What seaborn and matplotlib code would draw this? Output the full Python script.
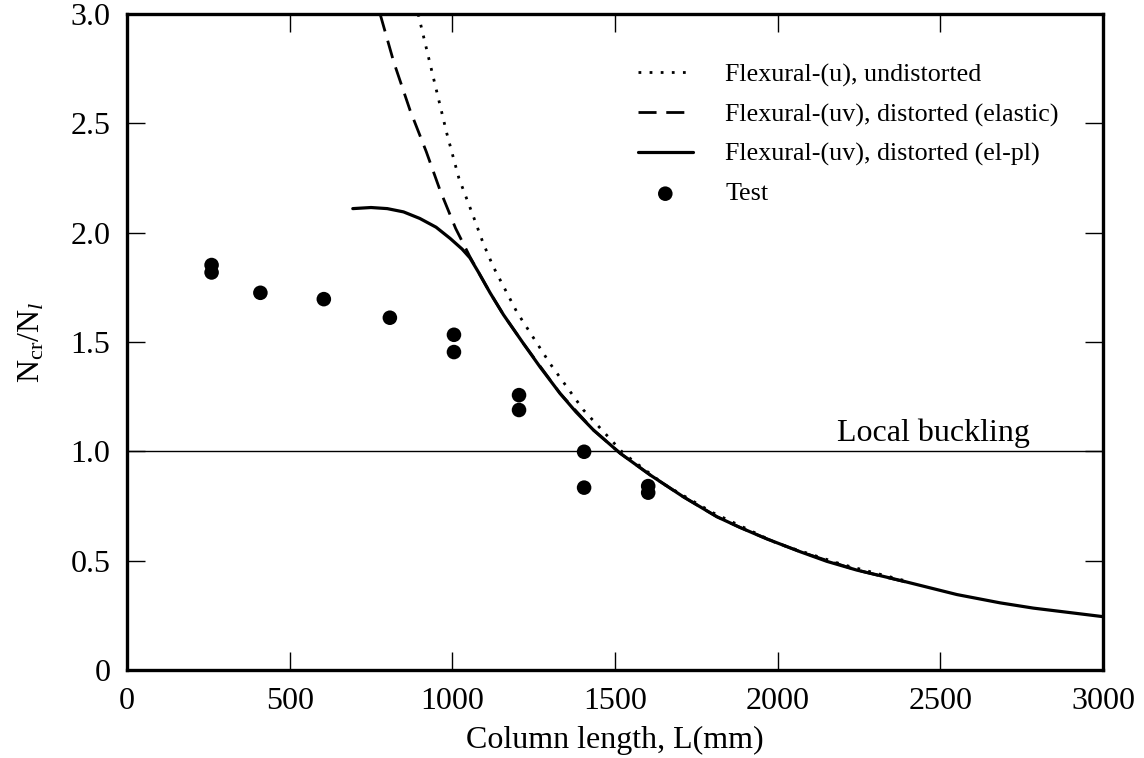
import numpy as np
import pandas as pd
import seaborn as sb
from matplotlib import pyplot as plt

# values
L_u = [895, 940, 983, 1020, 1065, 1095, 1126, 1198, 1300, 1403, 1526, 1650, 1800, 2000, 2200, 2400]
N_u = [3.0, 2.72, 2.454, 2.25, 2.073, 1.951, 1.844, 1.638, 1.402, 1.189, 0.991, 0.85, 0.72, 0.578, 0.482, 0.405]

L_el = [778, 820, 870, 920, 962, 1010, 1054, 1080, 1116, 1157, 1218, 1331, 1434, 1516, 1608,
        1710, 1813, 1884, 1966, 2069, 2243, 2400]
N_el = [3.0, 2.78, 2.56, 2.37, 2.195, 2.02, 1.89, 1.82, 1.725, 1.625, 1.494, 1.265, 1.097, 0.991, 0.892,
        0.792, 0.701, 0.652, 0.6, 0.541, 0.457, 0.40]

L_pl = [694, 750, 800, 850, 900, 950, 993, 1030, 1054, 1080, 1116, 1157, 1218, 1270, 1331, 1380,
        1434, 1516, 1608, 1710, 1813, 1884, 1966, 2069, 2151, 2243, 2376, 2551, 2684, 2786, 3000]
N_pl = [2.11, 2.115, 2.11, 2.095, 2.065, 2.025, 1.974, 1.925, 1.885, 1.82, 1.725, 1.625, 1.494, 1.385, 1.265, 1.18,
        1.097, 0.991, 0.892, 0.792, 0.701, 0.652, 0.6, 0.541, 0.497, 0.457, 0.41, 0.345, 0.307, 0.283, 0.244]

L_test = [260, 260, 410, 605, 808, 1005, 1005, 1205, 1205, 1405, 1405, 1602, 1602]
N_test = [1.852, 1.818, 1.725, 1.696, 1.611, 1.533, 1.454, 1.257, 1.189, 0.998, 0.834, 0.841, 0.811]

X_TICKS = [0, 500, 1000, 1500, 2000, 2500, 3000]
Y_TICKS = [0, 0.5, 1.0, 1.5, 2.0, 2.5, 3.0]
Y_TICK_LABELS = ["0", "0.5", "1.0", "1.5", "2.0", "2.5", "3.0"]

sb.set_style("ticks")
plt.rcParams['font.family'] = ['Liberation Serif', 'DejaVu Serif']
plt.rcParams['mathtext.fontset'] = 'custom'
plt.rcParams['mathtext.rm'] = 'Liberation Serif'
plt.rcParams['mathtext.it'] = 'Liberation Serif:italic'
for key in ['text.color', 'axes.labelcolor', 'xtick.color', 'ytick.color', 'axes.edgecolor']:
    plt.rcParams[key] = 'black'

fig = plt.figure(figsize=(11.44, 7.58), dpi=100)
ax = fig.add_axes([127 / 1144, 1 - 670 / 758, 976 / 1144, 656 / 758])

# Plotting curves
sb.lineplot(x=L_u, y=N_u, ax=ax, color="k", lw=2.0, linestyle=(0, (1, 3)),
            label="Flexural-(u), undistorted")
sb.lineplot(x=L_el, y=N_el, ax=ax, color="k", lw=2.0, linestyle=(0, (6.5, 3.5)),
            label="Flexural-(uv), distorted (elastic)")
sb.lineplot(x=L_pl, y=N_pl, ax=ax, color="k", lw=2.3, linestyle="-",
            label="Flexural-(uv), distorted (el-pl)")
sb.scatterplot(x=L_test, y=N_test, ax=ax, color="k", s=110, edgecolor="none",
               label="Test", zorder=5)

# local buckling reference
ax.axhline(y=1.0, color="k", lw=1.0)
ax.text(2775, 1.045, "Local buckling", ha="right", va="baseline", fontsize=23)

ax.set_xlim(0, 3000)
ax.set_ylim(0, 3.0)
ax.set_xticks(X_TICKS)
ax.set_yticks(Y_TICKS)
ax.set_yticklabels(Y_TICK_LABELS)
ax.tick_params(direction="in", length=13, width=1, top=True, right=True,
               labelsize=23, pad=12)
for sp in ax.spines.values():
    sp.set_linewidth(2.4)
    sp.set_visible(True)

ax.set_xlabel("Column length, L(mm)", fontsize=23)
ax.set_ylabel(r"N$_{\mathrm{cr}}$/N$_{\mathit{l}}$", fontsize=23)
ax.xaxis.set_label_coords(0.5, -0.085)
ax.yaxis.set_label_coords(-0.082, 0.5)

leg = ax.legend(loc="upper left", bbox_to_anchor=(0.5236, 0.925), frameon=False,
                fontsize=18.7, handlelength=2.1, handletextpad=1.25, labelspacing=0.62,
                borderpad=0, borderaxespad=0)

fig.savefig("out.png", dpi=100)
